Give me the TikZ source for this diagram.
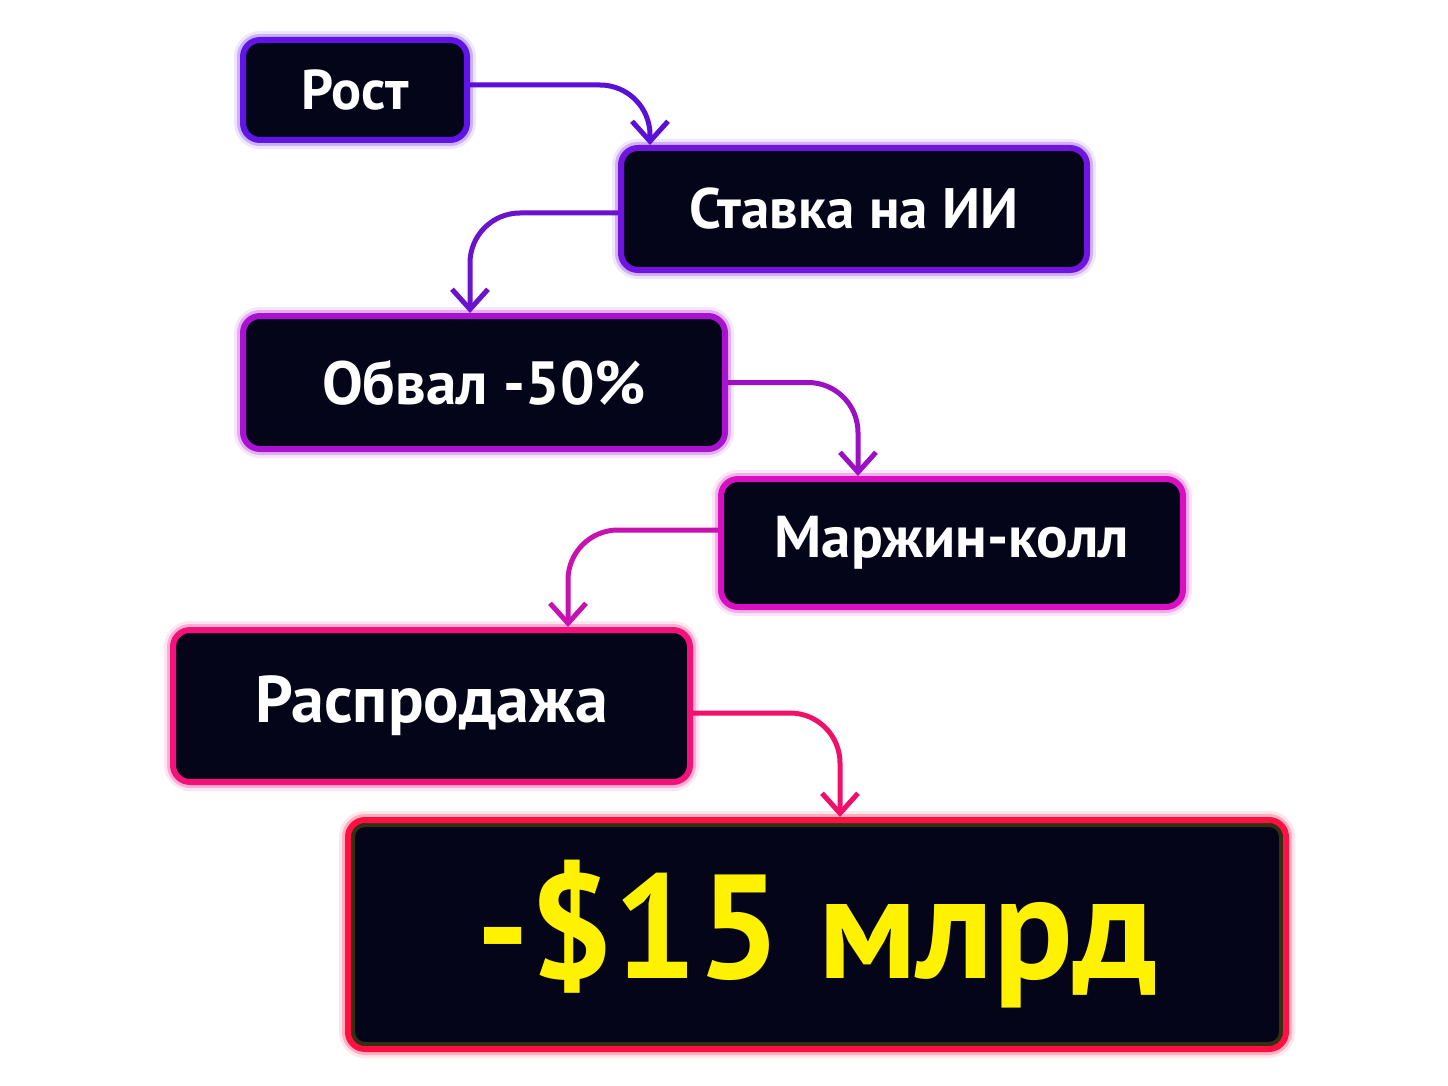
\documentclass[tikz,border=0pt]{standalone}
\usepackage{fontspec}
\setmainfont{PT Sans}
\usetikzlibrary{arrows.meta}
\definecolor{boxfill}{HTML}{05051A}
\definecolor{cA}{HTML}{6014E8}
\definecolor{cB}{HTML}{7214E0}
\definecolor{cC}{HTML}{AA12D2}
\definecolor{cD}{HTML}{D810C2}
\definecolor{cE}{HTML}{F5107A}
\definecolor{cF}{HTML}{FF1040}
\definecolor{aA}{HTML}{5A10D8}
\definecolor{aB}{HTML}{6A12CC}
\definecolor{aC}{HTML}{9C10C4}
\definecolor{aD}{HTML}{C812B0}
\definecolor{aE}{HTML}{F0106A}
\definecolor{bigyellow}{HTML}{FFF200}
\tikzset{
  flowbox/.style={rounded corners=17pt, fill=boxfill, draw=#1, line width=6pt,
    text=white, inner sep=0pt,
    preaction={draw=#1, line width=18pt, opacity=0.10},
    preaction={draw=#1, line width=12pt, opacity=0.25}},
  flowarrow/.style={draw=#1, line width=5pt, rounded corners=50pt,
    -{Straight Barb[length=20pt,width=36pt]}}
}
\begin{document}
\begin{tikzpicture}[x=1pt,y=-1pt]
\useasboundingbox[fill=white] (0,0) rectangle (1448,1086);
\node[flowbox=cA, minimum width=224pt, minimum height=100pt, font=\fontsize{56}{60}\selectfont\bfseries] (b1) at (355,90) {Рост};
\node[flowbox=cB, minimum width=466pt, minimum height=122pt, font=\fontsize{57}{62}\selectfont\bfseries] (b2) at (854,209) {Ставка на ИИ};
\node[flowbox=cC, minimum width=482pt, minimum height=133pt, font=\fontsize{61}{66}\selectfont\bfseries] (b3) at (484,382.5) {Обвал -50\%};
\node[flowbox=cD, minimum width=462pt, minimum height=128pt, font=\fontsize{59}{64}\selectfont\bfseries] (b4) at (952,543) {Маржин-колл};
\node[flowbox=cE, minimum width=517pt, minimum height=152pt, font=\fontsize{66}{70}\selectfont\bfseries] (b5) at (431.5,706) {Распродажа};
\node[flowbox=cF, minimum width=938pt, minimum height=229pt, text=bigyellow, font=\fontsize{148}{150}\selectfont\bfseries] (b6) at (817,934.5) {-\$15 млрд};
\draw[bigyellow, opacity=0.18, line width=4pt, rounded corners=12pt] ([shift={(8pt,-8pt)}]b6.north west) rectangle ([shift={(-8pt,8pt)}]b6.south east);
\draw[flowarrow=aA] ([yshift=5pt]b1.east) -| ([xshift=-204pt]b2.north);
\draw[flowarrow=aB] ([yshift=-4pt]b2.west) -| ([xshift=-14pt]b3.north);
\draw[flowarrow=aC] (b3.east) -| ([xshift=-94pt]b4.north);
\draw[flowarrow=aD] ([yshift=13pt]b4.west) -| ([xshift=136.5pt]b5.north);
\draw[flowarrow=aE] ([yshift=-7pt]b5.east) -| ([xshift=23pt]b6.north);
\end{tikzpicture}
\end{document}
